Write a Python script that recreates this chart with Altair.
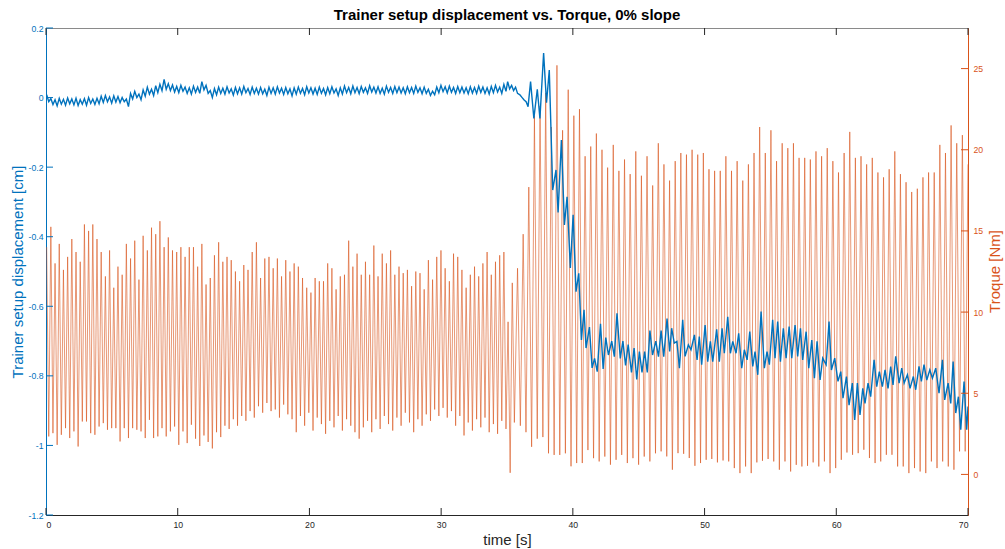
import numpy as np
import pandas as pd
import altair as alt

BLUE = "#0072BD"
ORANGE = "#D95319"
DARK = "#262626"
FONT = "Liberation Sans"

# ---------------- axis ticks ----------------
x_ticks = [0, 10, 20, 30, 40, 50, 60, 70]
left_ticks = [-1.2, -1.0, -0.8, -0.6, -0.4, -0.2, 0.0, 0.2]
right_ticks = [0, 5, 10, 15, 20, 25]

# ---------------- torque (right axis), read cycle by cycle ----------------
# segment A: ~3.1 Hz pedalling, peaks evenly spaced from 0.05 s to 35.4 s
torque_span_A = [0.05, 35.4]
torque_peak_A = [
    14.0, 15.25, 13.0, 14.2, 12.6, 13.4, 14.5, 13.7, 13.1, 15.4, 15.0, 15.4, 14.5, 13.7, 12.2, 13.8,
    11.5, 12.8, 12.3, 14.2, 13.3, 14.4, 12.0, 14.7, 13.8, 15.2, 14.8, 15.6, 14.0, 14.6, 13.8, 13.7,
    14.0, 13.4, 14.0, 14.0, 12.8, 14.2,
    11.7, 12.1, 13.5, 14.3, 13.1, 13.4, 13.2, 12.5, 11.9, 12.9, 12.6, 13.7, 14.3, 12.1, 13.3, 13.4,
    12.7, 13.3, 12.2, 13.2, 12.5, 13.0, 12.8, 12.1, 11.5, 11.2, 12.1, 11.9, 11.9, 13.0, 12.7, 11.4,
    12.2, 12.3, 14.4, 12.8, 13.6,
    12.3, 13.1, 12.3, 14.1, 12.2, 13.6, 13.0, 13.8, 12.3, 12.8, 12.4, 12.6, 11.6, 12.5, 12.4, 11.4,
    13.2, 12.0, 13.4, 13.8, 12.7, 11.9, 13.6, 13.4, 12.6, 11.5, 12.3, 12.8, 12.2, 13.0, 13.7, 12.3,
    13.1, 13.5, 13.7, 9.4, 11.8,
]
torque_trough_A = [
    2.34, 2.54, 1.82, 2.44, 2.85, 2.24, 2.65, 1.72, 3.26, 3.26, 2.54, 2.44, 2.95, 3.16, 2.75, 2.85,
    2.85, 2.03, 2.85, 2.24, 2.85, 2.75, 2.65, 2.24, 3.36, 2.24, 2.34, 2.85, 2.34, 2.65, 2.95, 1.82,
    2.65, 1.93, 3.06, 2.2, 1.75, 2.4,
    2.0, 1.6, 2.6, 2.3, 3.0, 2.8, 3.4, 3.0, 3.6, 3.3, 3.9, 3.5, 4.2, 3.8, 4.4, 3.9,
    4.0, 3.5, 4.3, 3.7, 3.4, 2.6, 3.6, 3.0, 3.8, 2.7, 3.5, 3.1, 2.5, 3.3, 2.9, 3.6,
    2.7, 3.4, 3.0, 2.6, 2.2,
    2.9, 3.3, 2.6, 3.4, 2.8, 3.6, 3.1, 2.7, 3.5, 3.0, 3.8, 3.2, 2.6, 3.4, 3.0, 3.7,
    3.3, 4.0, 3.6, 4.1, 3.5, 3.9, 3.0, 3.6, 2.4, 3.2, 2.7, 3.4, 2.9, 3.5, 2.6, 3.1,
    2.5, 3.3, 2.8, 0.1, 3.2,
]
# segment B: ~2.35 Hz after the change, peaks evenly spaced from 35.8 s to 70 s
torque_span_B = [35.8, 70.0]
torque_peak_B = [
    12.7, 14.8, 17.7, 22.1, 22.7, 23.5, 21.4, 25.2, 21.2, 23.7, 22.1, 22.5, 19.6, 20.2, 21.0, 20.0,
    18.9, 20.3, 18.7, 19.4, 18.5, 19.9, 18.4, 19.6, 17.8,
    20.4, 19.1, 18.1, 19.3, 19.8, 19.7, 20.0, 19.7, 19.8, 18.8, 18.7, 18.7, 19.6, 18.7, 19.3, 18.1,
    19.1, 19.8, 21.4, 19.8, 21.2, 19.3, 20.4, 20.1, 20.4, 19.5, 19.5, 19.4, 19.9, 19.6, 20.1, 19.3,
    18.6, 19.8, 21.1, 19.5, 19.6, 19.1, 19.5, 18.6, 18.3, 18.8, 19.9, 18.5, 18.0, 17.4, 17.6, 18.3,
    18.6, 18.6, 20.3, 19.8, 21.5, 20.4, 20.9, 19.1,
]
torque_trough_B = [
    3.0, 2.6, 1.7, 2.2, 2.3, 1.3, 1.2, 1.2, 1.3, 0.5, 0.7, 0.7, 1.5, 1.0, 0.8, 1.1,
    0.6, 0.9, 1.2, 0.7, 1.0, 0.6, 1.1, 0.8, 1.3,
    1.42, 1.11, 0.29, 1.31, 1.27, 1.01, 0.53, 0.70, 0.90, 0.95, 0.74, 0.86, 0.80, 0.39, 0.08, 0.49,
    0.08, 0.74, 0.84, 0.95, 0.80, 0.29, 0.80, 0.18, 0.59, 0.49, 0.53, 0.74, 0.49, 0.80, 0.08, 0.39,
    0.90, 1.35, 1.21, 1.31, 1.52, 1.01, 0.70, 0.80, 1.21, 1.21, 0.49, 0.49, 0.08, 0.39, 0.18, 0.08,
    0.80, 0.39, 0.80, 0.49, 0.29, 1.42, 1.42, 1.6,
]

# ---------------- displacement (left axis) ----------------
# steady part: one high / low per pedal cycle on the segment-A cycle grid
disp_hi_A = [
    0.008, -0.003, -0.006, -0.002, -0.005, -0.001, -0.004, -0.002, -0.006, -0.003, 0.0, -0.004, -0.002,
    0.004, 0.006, 0.002, 0.005, 0.003, 0.0,
    -0.004,
    0.012, 0.018, 0.010, 0.022,
    0.030, 0.024, 0.034, 0.038,
    0.052,
    0.040, 0.036, 0.032, 0.035, 0.030, 0.028, 0.033, 0.030,
    0.046,
    0.035, 0.020,
    0.026, 0.030, 0.027, 0.031, 0.025, 0.029, 0.028, 0.032, 0.026, 0.030, 0.027, 0.029, 0.024, 0.030,
    0.028, 0.031, 0.027, 0.029, 0.025, 0.028, 0.030, 0.026, 0.031, 0.028, 0.027, 0.030, 0.026, 0.029,
    0.031, 0.025, 0.028, 0.033, 0.029,
    0.033, 0.029, 0.032, 0.028, 0.034, 0.030, 0.031, 0.027, 0.033, 0.029, 0.032, 0.030, 0.028, 0.031,
    0.029, 0.033, 0.028, 0.030, 0.024, 0.018, 0.030, 0.035, 0.031, 0.033, 0.029, 0.032, 0.030, 0.028,
    0.031, 0.029, 0.033, 0.030, 0.028, 0.032, 0.035, 0.030, 0.038,
]
disp_lo_A = [
    -0.012, -0.020, -0.024, -0.019, -0.022, -0.018, -0.021, -0.023, -0.019, -0.022, -0.017, -0.020, -0.018,
    -0.014, -0.012, -0.016, -0.013, -0.015, -0.012,
    -0.026,
    -0.004, 0.000, -0.006, 0.004,
    0.010, 0.006, 0.014, 0.020,
    0.024,
    0.020, 0.016, 0.014, 0.018, 0.012, 0.010, 0.015, 0.012,
    0.022,
    0.012, 0.000,
    0.008, 0.012, 0.010, 0.013, 0.007, 0.011, 0.010, 0.014, 0.009, 0.012, 0.010, 0.011, 0.006, 0.012,
    0.010, 0.013, 0.009, 0.011, 0.005, 0.010, 0.012, 0.008, 0.013, 0.010, 0.009, 0.012, 0.008, 0.011,
    0.013, 0.006, 0.010, 0.014, 0.011,
    0.014, 0.011, 0.015, 0.012, 0.016, 0.013, 0.012, 0.010, 0.015, 0.012, 0.014, 0.013, 0.011, 0.014,
    0.012, 0.015, 0.011, 0.012, 0.006, 0.008, 0.014, 0.017, 0.013, 0.015, 0.012, 0.014, 0.013, 0.011,
    0.013, 0.012, 0.015, 0.012, 0.010, 0.014, 0.016, 0.012, 0.018,
]
# transition (read point by point)
disp_trans_t = [35.05, 35.2, 35.35, 35.5, 35.65, 35.8, 35.98, 36.15, 36.3, 36.45,
                36.6, 36.79, 37.04, 37.3, 37.5, 37.78, 38.0, 38.21, 38.47, 38.72,
                38.88, 39.13, 39.36, 39.56, 39.81, 40.02, 40.24, 40.45, 40.65, 40.85,
                41.0, 41.26, 41.46]
disp_trans_v = [0.046, 0.025, 0.035, 0.02, 0.03, 0.012, 0.008, 0.0, -0.007, -0.012,
                -0.026, 0.046, -0.06, 0.024, -0.06, 0.128, -0.015, 0.079, -0.266, -0.208,
                -0.33, -0.122, -0.366, -0.285, -0.49, -0.337, -0.558, -0.505, -0.697, -0.61,
                -0.72, -0.66, -0.777]
# after the drop (read point by point)
disp_late_t = [41.65, 41.85, 42.1, 42.3, 42.5, 42.7, 42.95, 43.15, 43.35, 43.6,
               43.8, 44.0, 44.2, 44.45, 44.65, 44.85, 45.05, 45.25, 45.45, 45.65,
               45.85, 46.05, 46.3, 46.5, 46.7, 46.9, 47.15, 47.35, 47.5, 47.7,
               47.9, 48.09, 48.34, 48.52, 48.77, 48.97, 49.23, 49.43, 49.6, 49.78,
               50.04, 50.24, 50.44, 50.62, 50.92, 51.12, 51.33, 51.5, 51.76, 51.96,
               52.14, 52.39, 52.59, 52.82, 53.02, 53.23, 53.43, 53.66, 53.83, 54.04,
               54.29, 54.54, 54.74, 54.92, 55.17, 55.35, 55.55, 55.76, 55.98, 56.19,
               56.42, 56.62, 56.87, 57.07, 57.28, 57.45, 57.71, 57.91, 58.14, 58.34,
               58.54, 58.77, 58.97, 59.23, 59.45, 59.63, 59.88, 60.13, 60.34, 60.51,
               60.77, 60.97, 61.22, 61.4, 61.6, 61.8, 62.01, 62.18, 62.41, 62.61,
               62.87, 63.07, 63.27, 63.5, 63.7, 63.93, 64.13, 64.31, 64.51, 64.77,
               64.97, 65.15, 65.4, 65.6, 65.85, 66.03, 66.28, 66.46, 66.66, 66.87,
               67.1, 67.3, 67.55, 67.8, 68.06, 68.23, 68.49, 68.69, 68.87, 69.07,
               69.27, 69.45, 69.7, 69.9, 70.0]
disp_late_v = [-0.75, -0.788, -0.65, -0.78, -0.69, -0.74, -0.70, -0.745, -0.62, -0.75,
               -0.70, -0.77, -0.71, -0.79, -0.72, -0.81, -0.73, -0.79, -0.73, -0.79,
               -0.67, -0.74, -0.70, -0.745, -0.67, -0.745, -0.635, -0.73, -0.663, -0.706,
               -0.701, -0.778, -0.639, -0.744, -0.711, -0.725, -0.682, -0.754, -0.687, -0.768,
               -0.654, -0.759, -0.701, -0.759, -0.666, -0.759, -0.663, -0.735, -0.63, -0.735,
               -0.701, -0.735, -0.678, -0.778, -0.725, -0.754, -0.673, -0.773, -0.73, -0.797,
               -0.615, -0.778, -0.73, -0.768, -0.639, -0.749, -0.644, -0.759, -0.663, -0.749,
               -0.658, -0.749, -0.654, -0.744, -0.663, -0.754, -0.673, -0.778, -0.697, -0.807,
               -0.701, -0.812, -0.749, -0.768, -0.644, -0.783, -0.749, -0.816, -0.788, -0.864,
               -0.802, -0.884, -0.821, -0.927, -0.821, -0.912, -0.836, -0.879, -0.821, -0.86,
               -0.754, -0.831, -0.788, -0.831, -0.783, -0.836, -0.773, -0.826, -0.744, -0.821,
               -0.778, -0.821, -0.797, -0.836, -0.802, -0.84, -0.773, -0.816, -0.768, -0.812,
               -0.783, -0.807, -0.778, -0.85, -0.754, -0.869, -0.821, -0.879, -0.759, -0.907,
               -0.86, -0.955, -0.816, -0.955, -0.888]


# ---------------- build tables ----------------
def cycles(span, highs, lows):
    n = len(highs)
    grid = np.linspace(span[0], span[1], n)
    half = (span[1] - span[0]) / (n - 1) / 2.0
    ts, vs = [], []
    for i in range(n):
        ts.append(float(grid[i])); vs.append(highs[i])
        if i < len(lows):
            ts.append(float(grid[i] + half)); vs.append(lows[i])
    return ts, vs


ta, va = cycles(torque_span_A, torque_peak_A, torque_trough_A)
tb, vb = cycles(torque_span_B, torque_peak_B, torque_trough_B)
torque_df = pd.DataFrame({"t": ta + tb, "torque": va + vb})
torque_df = torque_df[torque_df["t"] <= 70.0]

stepA = (torque_span_A[1] - torque_span_A[0]) / (len(torque_peak_A) - 1)
da_t, da_v = [], []
for k, (hi, lo) in enumerate(zip(disp_hi_A, disp_lo_A)):
    t0 = torque_span_A[0] + k * stepA
    da_t += [t0, t0 + stepA / 2.0]
    da_v += [hi, lo]
disp_df = pd.DataFrame({"t": da_t + disp_trans_t + disp_late_t,
                        "disp": da_v + disp_trans_v + disp_late_v})

xt_df = pd.DataFrame({"t": x_ticks})
lt_df = pd.DataFrame({"disp": left_ticks})
rt_df = pd.DataFrame({"torque": right_ticks})
rtitle_df = pd.DataFrame({"label": ["Troque [Nm]"]})

W, H = 922, 487
x_scale = alt.Scale(domain=[0, 70], nice=False, zero=False)
l_scale = alt.Scale(domain=[-1.2, 0.2], nice=False, zero=False)
r_scale = alt.Scale(domain=[-2.5, 27.5], nice=False, zero=False)

x_axis = alt.Axis(values=x_ticks, tickSize=0, labelPadding=5, labelColor=DARK, labelFontSize=8.7,
                  domainColor=DARK, title="time [s]", titleColor=DARK, titleFontSize=15,
                  titleFontWeight="normal", titlePadding=4, grid=False, labelFont=FONT, titleFont=FONT)

left_axis = alt.Axis(orient="left", values=left_ticks, tickSize=0, labelPadding=3,
                     labelExpr="datum.value == 0 ? '0' : (datum.value < 0 ? '-' + format(-datum.value, '.1~f') : format(datum.value, '.1~f'))",
                     labelColor=BLUE, labelFontSize=8.7, domainColor=BLUE, grid=False,
                     title="Trainer setup displacement [cm]", titleColor=BLUE, titleFontSize=15,
                     titleFontWeight="normal", titleAngle=270, titleX=-21, titleY=H / 2,
                     titleAlign="center", titleBaseline="bottom", labelFont=FONT, titleFont=FONT)

right_axis = alt.Axis(orient="right", values=right_ticks, tickSize=0, labelPadding=5,
                      labelColor=ORANGE, labelFontSize=8.7, domainColor=ORANGE, grid=False,
                      title=None, labelFont=FONT)

orange_line = alt.Chart(torque_df).mark_line(color=ORANGE, strokeWidth=0.6, clip=True).encode(
    x=alt.X("t:Q", scale=x_scale, axis=x_axis),
    y=alt.Y("torque:Q", scale=r_scale, axis=right_axis),
)
blue_line = alt.Chart(disp_df).mark_line(color=BLUE, strokeWidth=1.4, clip=True).encode(
    x=alt.X("t:Q", scale=x_scale, axis=x_axis),
    y=alt.Y("disp:Q", scale=l_scale, axis=left_axis),
)
left_tick_marks = alt.Chart(lt_df).mark_rule(color=BLUE, strokeWidth=1).encode(
    y=alt.Y("disp:Q", scale=l_scale, axis=None),
    x=alt.value(0), x2=alt.value(7),
)
right_tick_marks = alt.Chart(rt_df).mark_rule(color=ORANGE, strokeWidth=1).encode(
    y=alt.Y("torque:Q", scale=r_scale, axis=None),
    x=alt.value(W), x2=alt.value(W - 7),
)
bottom_ticks = alt.Chart(xt_df).mark_rule(color=DARK, strokeWidth=1).encode(
    x=alt.X("t:Q", scale=x_scale, axis=x_axis),
    y=alt.value(H), y2=alt.value(H - 7),
)
top_ticks = alt.Chart(xt_df).mark_rule(color=DARK, strokeWidth=1).encode(
    x=alt.X("t:Q", scale=x_scale, axis=x_axis),
    y=alt.value(0), y2=alt.value(7),
)
right_title = alt.Chart(rtitle_df).mark_text(
    color=ORANGE, fontSize=15, font=FONT, angle=270, align="center", baseline="bottom"
).encode(x=alt.value(W + 35), y=alt.value(H / 2), text="label:N")

chart = alt.layer(
    orange_line, blue_line, left_tick_marks, right_tick_marks, bottom_ticks, top_ticks, right_title
).resolve_scale(y="independent").properties(
    width=W, height=H,
    autosize=alt.AutoSizeParams(type="none"),
    padding={"left": 46, "top": 28, "right": 37, "bottom": 34},
    background="white",
    title=alt.TitleParams("Trainer setup displacement vs. Torque, 0% slope", fontSize=15,
                          fontWeight="bold", font=FONT, color="#000000", anchor="middle", offset=1.5),
).configure_view(stroke="#8a8a8a", strokeWidth=1)

chart.save("out.html", embed_options={"renderer": "svg", "actions": False})
